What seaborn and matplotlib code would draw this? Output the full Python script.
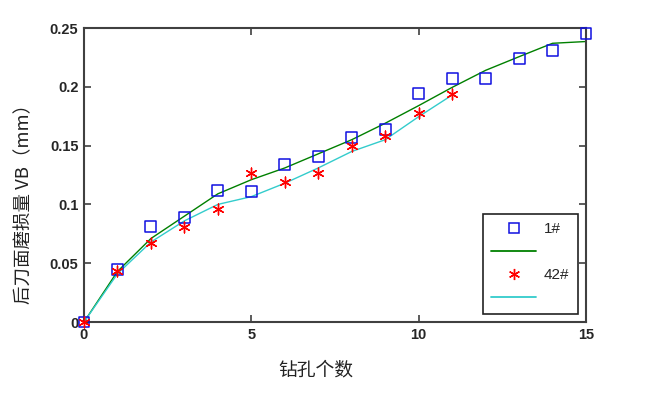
import matplotlib
matplotlib.use("Agg")
import matplotlib.pyplot as plt
import seaborn as sns
import pandas as pd
from matplotlib.lines import Line2D

# data
holes = list(range(16))
vb_1 = [0.0, 0.045, 0.081, 0.089, 0.112, 0.111, 0.134, 0.141, 0.157, 0.164,
        0.194, 0.207, 0.207, 0.224, 0.231, 0.245]
fit_1 = [0.0, 0.043, 0.071, 0.090, 0.109, 0.121, 0.131, 0.143, 0.155, 0.169,
         0.184, 0.1995, 0.214, 0.2256, 0.237, 0.2385]
holes_42 = list(range(12))
vb_42 = [0.0, 0.043, 0.067, 0.081, 0.096, 0.127, 0.119, 0.127, 0.150, 0.158,
         0.178, 0.194]
fit_42 = [0.0, 0.041, 0.068, 0.086, 0.100, 0.1066, 0.118, 0.131, 0.145, 0.155,
          0.1746, 0.193]
xticks = [0, 5, 10, 15]
yticks = [0, 0.05, 0.1, 0.15, 0.2, 0.25]
yticklabels = ["0", "0.05", "0.1", "0.15", "0.2", "0.25"]
legend_labels = ["1#", "", "42#", ""]

df1 = pd.DataFrame({"x": holes, "vb": vb_1, "fit": fit_1})
df42 = pd.DataFrame({"x": holes_42, "vb": vb_42, "fit": fit_42})

sns.set_style("white")
plt.rcParams['font.family'] = ['Noto Sans CJK SC', 'DejaVu Sans']

fig = plt.figure(figsize=(6.5, 3.94), dpi=100)
ax = fig.add_axes([84/650, 1-322/394, (586-84)/650, (322-28)/394])

green = "#008000"
cyan = "#33CCCC"
sns.lineplot(data=df1, x="x", y="fit", ax=ax, color=green, linewidth=1.0)
sns.lineplot(data=df42, x="x", y="fit", ax=ax, color=cyan, linewidth=1.0)
sns.scatterplot(data=df1, x="x", y="vb", ax=ax, marker="s", s=62,
                facecolor="none", edgecolor="#1010E0", linewidth=1.1, zorder=5,
                clip_on=False)
sns.scatterplot(data=df42, x="x", y="vb", ax=ax, marker=(6, 2, 0), s=60,
                color="red", edgecolor="red", linewidth=1.0, zorder=6,
                clip_on=False)

ax.set_xlim(0, 15)
ax.set_ylim(0, 0.25)
ax.set_xticks(xticks)
ax.set_yticks(yticks)
ax.set_xticklabels([str(t) for t in xticks], fontfamily="Liberation Sans",
                   fontweight="bold", fontsize=10.5)
ax.set_yticklabels(yticklabels, fontfamily="Liberation Sans",
                   fontweight="bold", fontsize=10.5)
ax.tick_params(direction="in", length=5, width=1.2, color="#404040",
               top=True, right=True, bottom=True, left=True, pad=4)
for sp in ax.spines.values():
    sp.set_color("#404040")
    sp.set_linewidth(1.5)

ax.set_xlabel("钻孔个数", fontsize=13.5, color="#222222")
ax.set_ylabel("后刀面磨损量 VB（mm）", fontsize=13.3, color="#222222")
ax.xaxis.set_label_coords((316-84)/502, -0.128)
ax.yaxis.set_label_coords(-0.102, (322-199)/294)

handles = [
    Line2D([], [], linestyle="none", marker="s", markersize=7.5,
           markerfacecolor="none", markeredgecolor="#1010E0", markeredgewidth=1.1),
    Line2D([], [], color=green, linewidth=1.3),
    Line2D([], [], linestyle="none", marker=(6, 2, 0), markersize=8,
           color="red", markeredgewidth=1.0),
    Line2D([], [], color=cyan, linewidth=1.3),
]
leg = ax.legend(handles=handles, labels=legend_labels, loc="lower right",
                bbox_to_anchor=((578-84)/502, (322-314)/294), borderaxespad=0,
                frameon=True, fancybox=False, framealpha=1, edgecolor="#222222",
                prop={"family": "Liberation Sans", "size": 11},
                handlelength=2.9, handletextpad=0.55, labelspacing=0.6,
                borderpad=0.55)
leg.get_frame().set_linewidth(1.2)

fig.savefig("out.png", dpi=100)
